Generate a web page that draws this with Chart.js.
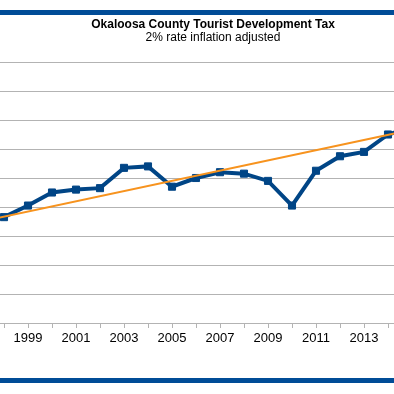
<!DOCTYPE html>
<html>
<head>
<meta charset="utf-8">
<script src="https://cdn.jsdelivr.net/npm/chart.js@4/dist/chart.umd.min.js"></script>
<style>
  html, body { margin: 0; padding: 0; background: #fff; overflow: hidden; }
  #wrap { position: relative; width: 394px; height: 394px; overflow: hidden; }
  #chart { position: absolute; left: -6px; top: 0; }
  .bar { position: absolute; left: 0; width: 394px; height: 5px; background: #004c97; }
</style>
</head>
<body>
<div id="wrap">
  <canvas id="chart" width="438" height="394"></canvas>
  <div class="bar" style="top:10px"></div>
  <div class="bar" style="top:378px"></div>
</div>
<script>
// valores (milhões, ajustado pela inflação)
var years = [1997, 1998, 1999, 2000, 2001, 2002, 2003, 2004, 2005, 2006,
             2007, 2008, 2009, 2010, 2011, 2012, 2013, 2014, 2015];
var revenue = [7.0, 7.3, 8.1, 9.0, 9.2, 9.3, 10.7, 10.8, 9.4, 10.0,
               10.4, 10.3, 9.8, 8.1, 10.5, 11.5, 11.8, 13.0, 13.5];
var trendYears = [1997, 2015];
var trendValues = [6.98, 13.33];
var tickLabels = ["1999", "2001", "2003", "2005", "2007", "2009", "2011", "2013"];

// área do gráfico: 24px por ano, 1998 em x=4 da janela
var xMin = 1998 - 4 / 24;
var xMax = xMin + 426 / 24;

var font = "'Liberation Sans', Arial, sans-serif";

var ctx = document.getElementById("chart").getContext("2d");

var chart = new Chart(ctx, {
  type: "line",
  data: {
    datasets: [
      {
        label: "Tendência",
        data: trendYears.map(function (y, i) { return { x: y, y: trendValues[i] }; }),
        borderColor: "#f7931e",
        borderWidth: 2,
        pointRadius: 0,
        order: 0,
      },
      {
        label: "Receita",
        data: years.map(function (y, i) { return { x: y, y: revenue[i] }; }),
        borderColor: "#004586",
        backgroundColor: "#004586",
        borderWidth: 4,
        pointStyle: "rect",
        pointRadius: 5,
        pointBorderWidth: 1,
        order: 1,
      },
    ],
  },
  options: {
    responsive: false,
    animation: false,
    layout: { padding: { left: 0, right: 0, top: 0, bottom: 44.4 } },
    plugins: {
      legend: { display: false },
      tooltip: { enabled: false },
      title: {
        display: true,
        text: "Okaloosa County Tourist Development Tax",
        color: "#000",
        font: { family: font, size: 12, weight: "bold", lineHeight: 1.2 },
        padding: { top: 17, bottom: 0 },
      },
      subtitle: {
        display: true,
        text: "2% rate inflation adjusted",
        color: "#000",
        font: { family: font, size: 12, lineHeight: 1 },
        padding: { top: 0, bottom: 18.6 },
      },
    },
    scales: {
      x: {
        type: "linear",
        min: xMin,
        max: xMax,
        afterBuildTicks: function (scale) {
          scale.ticks = years
            .filter(function (y) { return y >= xMin && y <= xMax; })
            .map(function (y) { return { value: y }; });
        },
        grid: { drawOnChartArea: false, color: "#b3b3b3", tickLength: 5 },
        border: { color: "#b3b3b3" },
        ticks: {
          autoSkip: false,
          maxRotation: 0,
          padding: 3,
          color: "#000",
          font: { family: font, size: 13 },
          callback: function (v) {
            return tickLabels.indexOf(String(v)) >= 0 ? String(v) : "";
          },
        },
      },
      y: {
        min: 0,
        max: 18,
        ticks: { stepSize: 2, display: false },
        grid: { color: "#b3b3b3", drawTicks: false },
        border: { display: false },
      },
    },
  },
});
</script>
</body>
</html>
